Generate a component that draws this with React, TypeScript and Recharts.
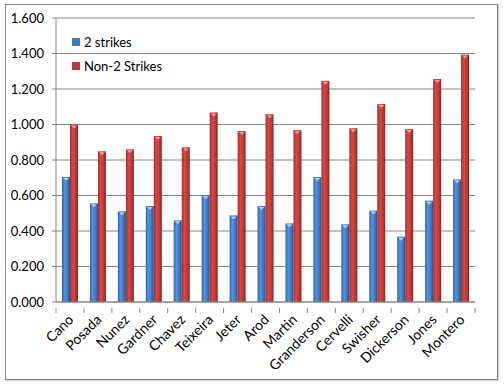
import React from 'react';
import { BarChart, Bar, XAxis, YAxis, CartesianGrid } from 'recharts';

const players = ['Cano', 'Posada', 'Nunez', 'Gardner', 'Chavez', 'Teixeira', 'Jeter', 'Arod', 'Martin', 'Granderson', 'Cervelli', 'Swisher', 'Dickerson', 'Jones', 'Montero'];
const twoStrikes = [0.704, 0.556, 0.511, 0.541, 0.46, 0.601, 0.488, 0.541, 0.443, 0.704, 0.438, 0.515, 0.368, 0.571, 0.691];
const nonTwoStrikes = [1.0, 0.849, 0.86, 0.935, 0.872, 1.068, 0.963, 1.058, 0.968, 1.246, 0.979, 1.115, 0.974, 1.256, 1.394];
const yTicks = [0, 0.2, 0.4, 0.6, 0.8, 1.0, 1.2, 1.4, 1.6];

const data = players.map((name, i) => ({ name, two: twoStrikes[i], non: nonTwoStrikes[i] }));

const W = 504;
const H = 384;
const margin = { top: 18, right: 29, left: 0, bottom: 0 };
const yAxisWidth = 56;
const band = (W - margin.left - margin.right - yAxisWidth) / players.length;
const font = 'Lato, "Open Sans", sans-serif';
const gridColor = '#868686';

// cylinder-ish bar with a light cap on top, like the Excel 3D look
const Bar3D = (props: any) => {
  const { x, y, width, height, fill, cap } = props;
  if (!height || height <= 0) return null;
  return (
    <g>
      <rect x={x} y={y} width={width} height={height} fill={fill} />
      <path d={`M${x + 1},${y + 1} L${x + width - 1},${y + 1} L${x + width / 2},${y + 4} Z`} fill={cap} />
    </g>
  );
};

const XTick = (props: any) => {
  const { x, y, payload, index } = props;
  const axisY = y - 2;
  return (
    <g>
      <line x1={x - band / 2} x2={x - band / 2} y1={axisY} y2={axisY + 5} stroke={gridColor} />
      {index === players.length - 1 && (
        <line x1={x + band / 2} x2={x + band / 2} y1={axisY} y2={axisY + 5} stroke={gridColor} />
      )}
      <text
        x={x + 2}
        y={y + 8}
        transform={`rotate(-45, ${x + 2}, ${y + 8})`}
        textAnchor="end"
        dominantBaseline="middle"
        fontSize={14}
        fontFamily={font}
        fill="#000"
      >
        {payload.value}
      </text>
    </g>
  );
};

const legendItems = [
  { label: '2 strikes', color: '#3e78c4' },
  { label: 'Non-2 Strikes', color: '#c0393a' },
];

export default function App() {
  return (
    <div style={{ position: 'absolute', left: 0, top: 0, width: W, height: H, background: '#fff' }}>
      <div
        style={{
          position: 'absolute',
          left: 5,
          top: 4,
          width: 491,
          height: 374,
          border: '1px solid #868686',
          boxShadow: '1px 1px 1px #d0d0d0',
        }}
      />
      <BarChart width={W} height={H} data={data} margin={margin} barGap={0} barSize={8}>
        <defs>
          <linearGradient id="blueGrad" x1="0" y1="0" x2="1" y2="0">
            <stop offset="0%" stopColor="#2f62a6" />
            <stop offset="35%" stopColor="#5794de" />
            <stop offset="75%" stopColor="#3a72bd" />
            <stop offset="100%" stopColor="#234f8c" />
          </linearGradient>
          <linearGradient id="redGrad" x1="0" y1="0" x2="1" y2="0">
            <stop offset="0%" stopColor="#a82c29" />
            <stop offset="35%" stopColor="#d44a46" />
            <stop offset="75%" stopColor="#bd3633" />
            <stop offset="100%" stopColor="#8a1f1d" />
          </linearGradient>
        </defs>
        <CartesianGrid vertical={false} stroke={gridColor} />
        <XAxis
          dataKey="name"
          interval={0}
          height={82}
          tickLine={false}
          axisLine={{ stroke: gridColor }}
          tick={<XTick />}
        />
        <YAxis
          width={yAxisWidth}
          domain={[0, 1.6]}
          ticks={yTicks}
          tickFormatter={(v: number) => v.toFixed(3)}
          tickSize={4}
          tickMargin={8}
          axisLine={{ stroke: gridColor }}
          tickLine={{ stroke: gridColor }}
          tick={{ fontSize: 13, fontFamily: font, fill: '#000' }}
        />
        <Bar dataKey="two" name="2 strikes" fill="url(#blueGrad)" isAnimationActive={false} shape={<Bar3D cap="#a9cff5" />} />
        <Bar dataKey="non" name="Non-2 Strikes" fill="url(#redGrad)" isAnimationActive={false} shape={<Bar3D cap="#f29491" />} />
      </BarChart>
      <div style={{ position: 'absolute', left: 72, top: 30, fontFamily: font, fontSize: 13, color: '#000', lineHeight: '24px' }}>
        {legendItems.map((item) => (
          <div key={item.label} style={{ display: 'flex', alignItems: 'center' }}>
            <span style={{ width: 8, height: 8, background: item.color, marginRight: 4, display: 'inline-block' }} />
            {item.label}
          </div>
        ))}
      </div>
    </div>
  );
}
